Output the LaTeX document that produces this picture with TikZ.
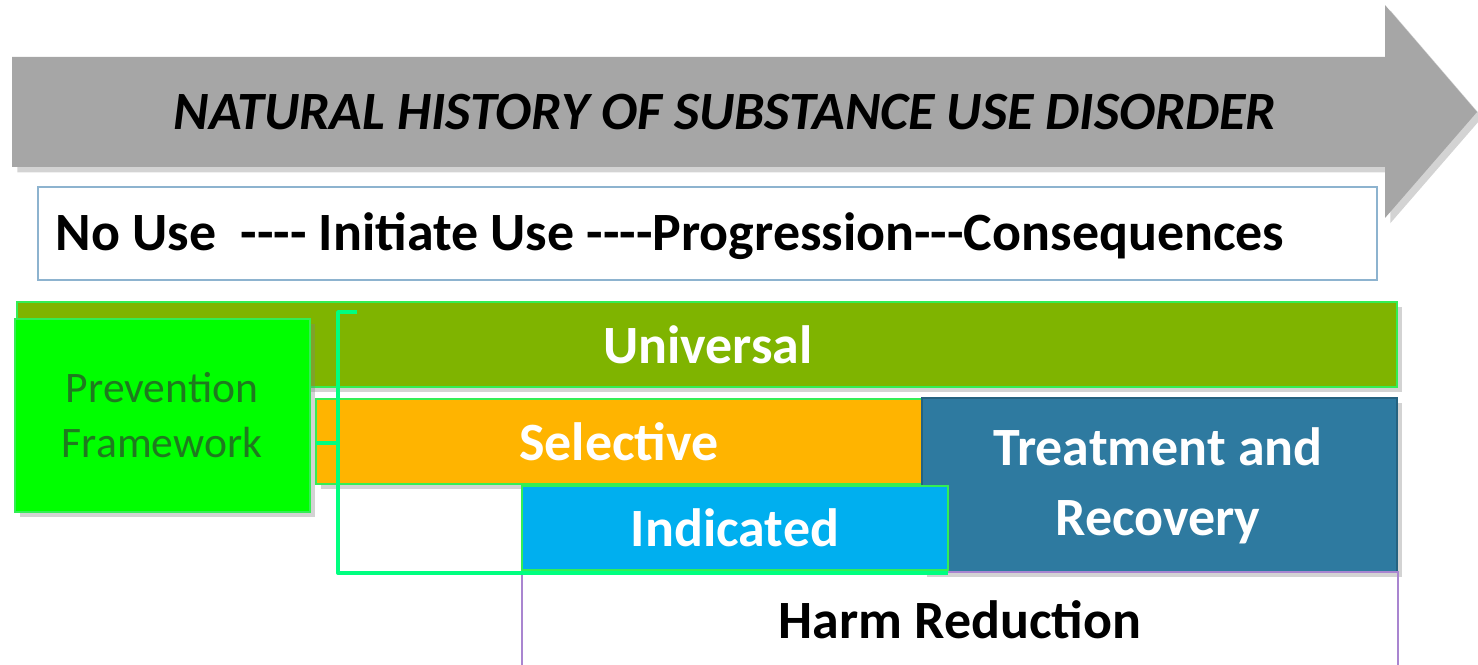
\documentclass[tikz,border=0pt]{standalone}
\usepackage{fontspec}
\setmainfont{Carlito}
\usetikzlibrary{shadows}
\definecolor{arrowgray}{HTML}{A6A6A6}
\definecolor{stageline}{HTML}{8DB3CF}
\definecolor{univgreen}{HTML}{7FB400}
\definecolor{edgegreen}{HTML}{33EE55}
\definecolor{prevgreen}{HTML}{00FF00}
\definecolor{prevtext}{HTML}{1F7A1F}
\definecolor{selorange}{HTML}{FFB400}
\definecolor{treatblue}{HTML}{2E7AA0}
\definecolor{indblue}{HTML}{00AFEF}
\definecolor{harmline}{HTML}{A985D0}
\definecolor{bracketgreen}{HTML}{00FF80}
\tikzset{
  bandtext/.style={text=white,font=\fontsize{30.7}{40}\selectfont\bfseries,align=center},
  blacktext/.style={text=black,font=\fontsize{30.7}{36}\selectfont\bfseries},
  softshadow/.style={drop shadow={shadow xshift=3pt,shadow yshift=-3pt,opacity=0.35}},
  bandedge/.style={edgegreen,line width=1.5pt}
}
\begin{document}
\begin{tikzpicture}[x=0.02cm,y=-0.02cm]
    \useasboundingbox (0,0) rectangle (1478,665);
    % arrow
    \fill [arrowgray,softshadow] (12,57) -- (1385,57) -- (1385,5) -- (1477,112)
        -- (1385,218) -- (1385,167) -- (12,167) -- cycle;
    \node (history) at (725,112) {\fontsize{30.7}{36}\selectfont\bfseries\itshape NATURAL HISTORY OF SUBSTANCE USE DISORDER};
    % stages
    \draw [stageline,line width=1.5pt,fill=white] (38,187) rectangle (1377,280);
    \node [blacktext] (stages) at (670,236) {No Use\ \ -{}-{}-{}- Initiate Use -{}-{}-{}-Progression-{}-{}-Consequences};
    % bands
    \draw [bandedge,fill=univgreen,softshadow] (17,302) rectangle (1397,387);
    \draw [bandedge,fill=selorange,softshadow] (316,399) rectangle (922,484);
    \draw [treatblue!80!black,fill=treatblue,line width=0.6pt,softshadow] (922,398) rectangle (1397,572);
    \draw [bandedge,fill=indblue] (522,486) rectangle (948,570);
    \draw [harmline,line width=1.5pt] (522,665) -- (522,572) -- (1398,572) -- (1398,665);
    \draw [bandedge,fill=prevgreen,softshadow] (15,319) rectangle (310,512);
    % bracket
    \draw [bracketgreen,line width=2.2pt,line join=round] (357,312) -- (338,312) -- (338,573) -- (948,573);
    \draw [bracketgreen,line width=2.2pt] (316,443) -- (338,443);
    \node [bandtext] (universal) at (708,345) {Universal};
    \node [bandtext] (selective) at (619,442) {Selective};
    \node [bandtext] (treatment) at (1158,486) {Treatment and\\Recovery};
    \node [bandtext] (indicated) at (735,528) {Indicated};
    \node [blacktext] (harm) at (960,620) {Harm Reduction};
    \node [text=prevtext,align=center,font=\fontsize{24.8}{31}\selectfont] (prevention) at (162,415) {Prevention\\Framework};
\end{tikzpicture}
\end{document}
